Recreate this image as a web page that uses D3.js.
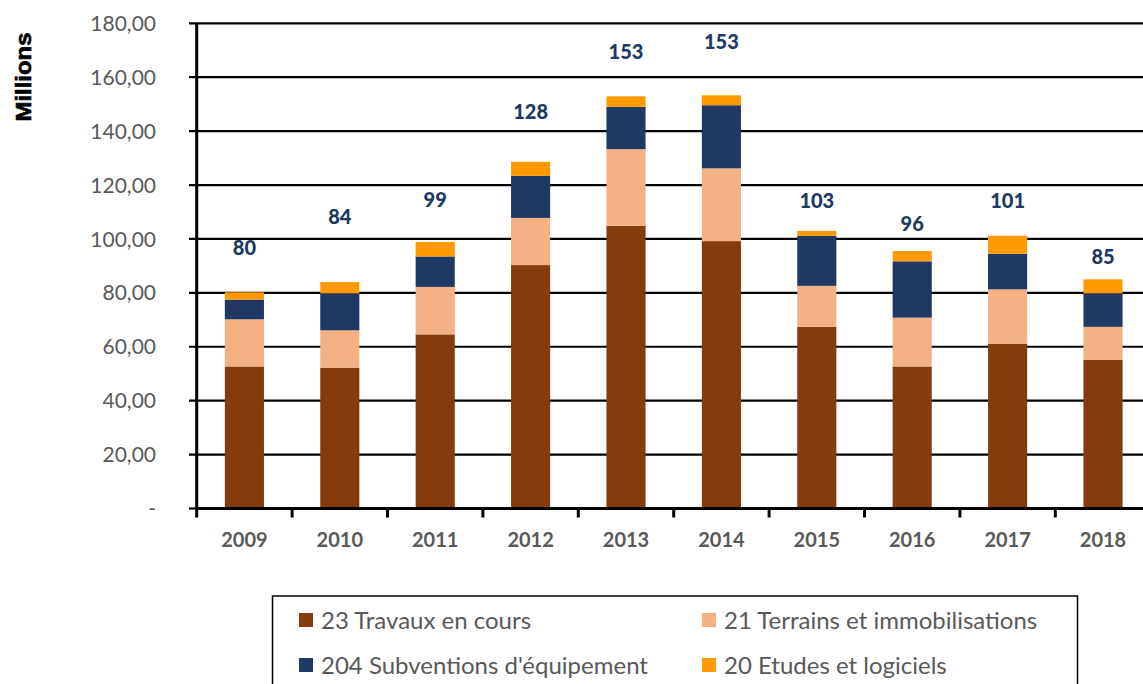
<!DOCTYPE html>
<html><head><meta charset="utf-8">
<script src="https://cdn.jsdelivr.net/npm/d3@7"></script>
<style>html,body{margin:0;padding:0;background:#fff;overflow:hidden}</style>
</head><body>
<svg id="c" width="1143" height="684"></svg>
<script>
const years = ["2009","2010","2011","2012","2013","2014","2015","2016","2017","2018"];
const travaux    = [52.7, 52.2, 64.6, 90.3, 104.9, 99.2, 67.4, 52.7, 61.1, 55.1];
const terrains   = [17.5, 13.9, 17.6, 17.5, 28.4, 27.0, 15.2, 18.1, 20.2, 12.3];
const subventions= [7.3, 13.7, 11.3, 15.6, 15.7, 23.4, 18.6, 20.9, 13.2, 12.4];
const etudes     = [2.7, 4.2, 5.4, 5.2, 3.9, 3.7, 1.8, 3.8, 6.7, 5.2];
const totalLabels = ["80","84","99","128","153","153","103","96","101","85"];
const labelLevel = [96.6, 108.1, 114.4, 147.1, 169.3, 173.0, 114.1, 105.6, 114.1, 93.3];
const yTicks = [0,20,40,60,80,100,120,140,160,180];
const yTickLabels = ["-","20,00","40,00","60,00","80,00","100,00","120,00","140,00","160,00","180,00"];
const seriesNames = ["23 Travaux en cours","21 Terrains et immobilisations","204 Subventions d'équipement","20 Etudes et logiciels"];
const seriesColors = ["#843C0C","#F4B183","#203864","#FF9900"];

const svg = d3.select("#c");
const x0 = 196.7, x1 = 1150.7, yb = 508.5, yt = 23.3;
const x = d3.scaleBand().domain(years).range([x0, x1]).paddingInner(0.59).paddingOuter(0.295);
const y = d3.scaleLinear().domain([0,180]).range([yb, yt]);

// gridlines
svg.append("g").selectAll("line").data(yTicks.slice(1)).join("line")
  .attr("x1", 189).attr("x2", 1143).attr("y1", d=>y(d)).attr("y2", d=>y(d))
  .attr("stroke","#000").attr("stroke-width",2.2);
svg.append("line").attr("x1",189).attr("x2",x0).attr("y1",y(0)).attr("y2",y(0)).attr("stroke","#000").attr("stroke-width",2.2);

// stacked bars
const rows = years.map((yr,i)=>({year:yr, s0:travaux[i], s1:terrains[i], s2:subventions[i], s3:etudes[i]}));
const stack = d3.stack().keys(["s0","s1","s2","s3"])(rows);
svg.append("g").selectAll("g").data(stack).join("g")
  .attr("fill",(d,i)=>seriesColors[i])
  .selectAll("rect").data(d=>d).join("rect")
  .attr("x", d=>x(d.data.year)).attr("width", x.bandwidth())
  .attr("y", d=>y(d[1])).attr("height", d=>y(d[0])-y(d[1]));

// axes lines
svg.append("line").attr("x1",x0).attr("x2",x0).attr("y1",yt).attr("y2",yb+9).attr("stroke","#000").attr("stroke-width",3);
svg.append("line").attr("x1",x0).attr("x2",1143).attr("y1",yb).attr("y2",yb).attr("stroke","#000").attr("stroke-width",3);
const step = x.step();
svg.append("g").selectAll("line").data(d3.range(1, years.length)).join("line")
  .attr("x1", d=>x0+d*step).attr("x2", d=>x0+d*step).attr("y1", yb).attr("y2", yb+9)
  .attr("stroke","#000").attr("stroke-width",3);

// y tick labels
svg.append("g").selectAll("text").data(yTicks).join("text")
  .attr("x", 156).attr("y", d=>y(d)).attr("dy","0.36em").attr("text-anchor","end")
  .attr("font-family","Lato, 'Open Sans', sans-serif").attr("font-size",21).attr("fill","#595959")
  .text((d,i)=>yTickLabels[i]);

// x labels
svg.append("g").selectAll("text").data(years).join("text")
  .attr("x", d=>x(d)+x.bandwidth()/2).attr("y", 547).attr("text-anchor","middle")
  .attr("font-family","Lato, 'Open Sans', sans-serif").attr("font-weight","bold").attr("font-size",20).attr("fill","#595959")
  .text(d=>d);

// total labels
svg.append("g").selectAll("text").data(years).join("text")
  .attr("x", d=>x(d)+x.bandwidth()/2).attr("y",(d,i)=>y(labelLevel[i])).attr("dy","0.36em").attr("text-anchor","middle")
  .attr("font-family","Lato, 'Open Sans', sans-serif").attr("font-weight","900").attr("font-size",20).attr("fill","#203864")
  .text((d,i)=>totalLabels[i]);

// Millions
svg.append("text").attr("transform","translate(31,77) rotate(-90)").attr("text-anchor","middle")
  .attr("font-family","'Liberation Sans', Arial, sans-serif").attr("font-weight","bold").attr("font-size",22)
  .attr("textLength",89).attr("lengthAdjust","spacingAndGlyphs").attr("fill","#000")
  .attr("stroke","#000").attr("stroke-width",0.6).text("Millions");

// legend
svg.append("rect").attr("x",272.5).attr("y",596).attr("width",805).attr("height",100)
  .attr("fill","#fff").attr("stroke","#000").attr("stroke-width",1.5);
const legPos = [[299,620],[702,620],[299,665],[702,665]];
const lg = svg.append("g").selectAll("g").data(seriesNames).join("g")
  .attr("transform",(d,i)=>`translate(${legPos[i][0]},${legPos[i][1]})`);
lg.append("rect").attr("x",0).attr("y",-7).attr("width",14).attr("height",14).attr("fill",(d,i)=>seriesColors[i]);
lg.append("text").attr("x",22).attr("y",0).attr("dy","0.36em")
  .attr("font-family","Lato, 'Open Sans', sans-serif").attr("font-size",24).attr("fill","#595959")
  .text(d=>d);
</script>
</body></html>
